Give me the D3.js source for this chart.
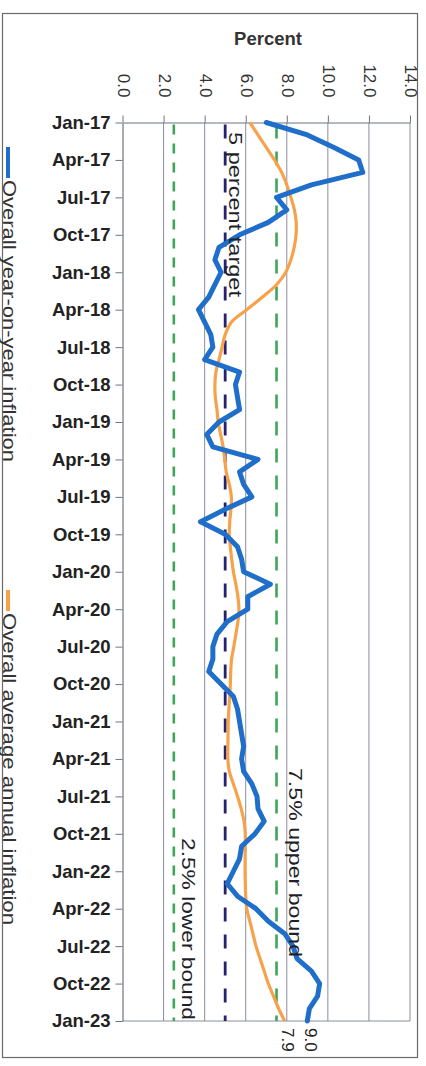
<!DOCTYPE html>
<html>
<head>
<meta charset="utf-8">
<script src="https://cdn.jsdelivr.net/npm/d3@7"></script>
<style>
  html, body { margin: 0; padding: 0; background: #ffffff; }
  svg { display: block; font-family: "Liberation Sans", Arial, sans-serif; }
</style>
</head>
<body>
<svg id="chart" width="426" height="1066"></svg>
<script>
// ---- Data ----
const tickLabels = ["Jan-17","Apr-17","Jul-17","Oct-17","Jan-18","Apr-18","Jul-18","Oct-18",
  "Jan-19","Apr-19","Jul-19","Oct-19","Jan-20","Apr-20","Jul-20","Oct-20",
  "Jan-21","Apr-21","Jul-21","Oct-21","Jan-22","Apr-22","Jul-22","Oct-22","Jan-23"];
const valueTicks = [0, 2, 4, 6, 8, 10, 12, 14];

// Overall year-on-year inflation, monthly Jan-17 .. Jan-23
const yoyInflation = [
  7.0, 9.0, 10.3, 11.5, 11.7, 9.2, 7.5, 8.0, 7.1, 5.7, 4.7, 4.5,
  4.8, 4.5, 4.2, 3.7, 4.0, 4.3, 4.4, 4.0, 5.7, 5.5, 5.6, 5.7,
  4.7, 4.1, 4.4, 6.6, 5.7, 5.9, 6.3, 5.0, 3.8, 5.0, 5.6, 5.8,
  5.9, 7.2, 6.1, 6.1, 5.1, 4.6, 4.4, 4.4, 4.2, 4.8, 5.4, 5.6,
  5.7, 5.8, 5.9, 5.8, 5.9, 6.3, 6.55, 6.6, 6.9, 6.45, 5.8, 5.7,
  5.4, 5.1, 5.6, 6.5, 7.1, 7.9, 8.3, 8.5, 9.2, 9.6, 9.5, 9.1,
  9.0
];
// Overall average annual inflation, monthly Jan-17 .. Jan-23
const avgInflation = [
  6.2, 6.6, 7.0, 7.4, 7.75, 8.0, 8.2, 8.37, 8.46, 8.45, 8.36, 8.2,
  7.95, 7.5, 6.8, 6.05, 5.3, 5.0, 4.85, 4.7, 4.55, 4.5, 4.52, 4.6,
  4.66, 4.78, 4.9, 4.98, 5.05, 5.2, 5.3, 5.28, 5.22, 5.2, 5.25, 5.32,
  5.4, 5.52, 5.62, 5.67, 5.62, 5.52, 5.42, 5.31, 5.27, 5.25, 5.22, 5.18,
  5.15, 5.14, 5.13, 5.13, 5.2, 5.4, 5.6, 5.78, 5.92, 5.98, 5.98, 5.97,
  5.97, 5.98, 6.0, 6.05, 6.2, 6.35, 6.5, 6.7, 6.9, 7.1, 7.35, 7.6,
  7.9
];
const seriesNames = ["Overall year-on-year inflation", "Overall average annual inflation"];
const targetValue = 5.0, lowerBound = 2.5, upperBound = 7.5;
const refLabels = ["5 percent target", "2.5% lower bound", "7.5% upper bound"];
const axisTitle = "Percent";

// ---- Layout ----
const svg = d3.select("#chart");
const pTop = 122.5, pBottom = 1021, pLeft = 122.5, pRight = 410;
const nMonths = yoyInflation.length - 1;

const x = d3.scaleLinear().domain([0, 14]).range([pLeft, pRight]);
const y = d3.scaleLinear().domain([0, nMonths]).range([pTop, pBottom]);

// outer frame
svg.append("rect").attr("x", 2.5).attr("y", 13.5).attr("width", 415).attr("height", 1044)
  .attr("fill", "none").attr("stroke", "#6a6a6a").attr("stroke-width", 1.2);

// vertical gridlines
svg.append("g").selectAll("line").data(valueTicks.slice(1)).join("line")
  .attr("x1", d => x(d)).attr("x2", d => x(d))
  .attr("y1", pTop).attr("y2", pBottom)
  .attr("stroke", "#8a8e9c").attr("stroke-width", 1);

// bottom line
svg.append("line").attr("x1", pLeft).attr("x2", pRight).attr("y1", pBottom).attr("y2", pBottom)
  .attr("stroke", "#8a8e9c").attr("stroke-width", 1);

// top value axis
const axTop = svg.append("g").attr("transform", `translate(0,${pTop})`)
  .call(d3.axisTop(x).tickValues(valueTicks).tickSize(7).tickSizeOuter(0).tickFormat(d3.format(".1f")));
axTop.select(".domain").attr("stroke", "#6d7384").attr("stroke-width", 1.2);
axTop.selectAll(".tick line").attr("stroke", "#6d7384");
axTop.selectAll(".tick text")
  .attr("font-size", 17).attr("fill", "#333")
  .attr("text-anchor", "end").attr("dominant-baseline", "central")
  .attr("x", 0).attr("y", 0).attr("dy", null)
  .attr("transform", "translate(0,-25) rotate(90)");

// left category axis
const catScale = d3.scaleLinear().domain([0, tickLabels.length - 1]).range([y(0), y(nMonths)]);
const axLeft = svg.append("g").attr("transform", `translate(${pLeft},0)`)
  .call(d3.axisLeft(catScale).tickValues(d3.range(tickLabels.length)).tickSize(7).tickSizeOuter(0)
    .tickFormat(i => tickLabels[i]));
axLeft.select(".domain").attr("stroke", "#6d7384").attr("stroke-width", 1.2);
axLeft.selectAll(".tick line").attr("stroke", "#6d7384");
axLeft.selectAll(".tick text")
  .attr("font-size", 18.5).attr("font-weight", "bold").attr("fill", "#222")
  .attr("x", -12);

// axis title
svg.append("text").attr("x", 268).attr("y", 45).attr("text-anchor", "middle")
  .attr("font-size", 18.5).attr("font-weight", "bold").attr("fill", "#333").text(axisTitle);

// reference lines
function refLine(v, color, dash, w) {
  svg.append("line").attr("x1", x(v)).attr("x2", x(v)).attr("y1", pTop + 2).attr("y2", pBottom)
    .attr("stroke", color).attr("stroke-width", w).attr("stroke-dasharray", dash);
}
refLine(lowerBound, "#3fa659", "10,9", 2.6);
refLine(upperBound, "#3fa659", "14,13", 2.6);
refLine(targetValue, "#27226e", "14,13", 2.8);

// series lines
svg.append("path").datum(avgInflation)
  .attr("d", d3.line().x(d => x(d)).y((d, i) => y(i)).curve(d3.curveCatmullRom))
  .attr("fill", "none").attr("stroke", "#f6a24b").attr("stroke-width", 3.2)
  .attr("stroke-linejoin", "round");
svg.append("path").datum(yoyInflation)
  .attr("d", d3.line().x(d => x(d)).y((d, i) => y(i)))
  .attr("fill", "none").attr("stroke", "#1f6ec9").attr("stroke-width", 5)
  .attr("stroke-linejoin", "round").attr("stroke-linecap", "round");

// rotated annotation helper
function rotText(tx, ty, str, len, size, color, anchor) {
  const t = svg.append("text").attr("transform", `translate(${tx},${ty}) rotate(90)`)
    .attr("font-size", size).attr("fill", color).attr("text-anchor", anchor || "start")
    .text(str);
  if (len) t.attr("textLength", len).attr("lengthAdjust", "spacingAndGlyphs");
  return t;
}
rotText(x(targetValue) + 4, 132, refLabels[0], 165, 18, "#1f1f2a");
rotText(x(upperBound) + 12, 768, refLabels[2], 189, 18, "#1f1f2a");
rotText(x(lowerBound) + 8, 838, refLabels[1], 182, 18, "#1f1f2a");

// end labels
const fmt = d3.format(".1f");
[yoyInflation, avgInflation].forEach(arr => {
  const v = arr[arr.length - 1];
  svg.append("text").attr("transform", `translate(${x(v) + 3},1028) rotate(90)`)
    .attr("font-size", 17).attr("fill", "#222").attr("dominant-baseline", "central")
    .text(fmt(v));
});

// legend (rotated)
svg.append("line").attr("x1", 8).attr("x2", 8).attr("y1", 147).attr("y2", 178)
  .attr("stroke", "#1f6ec9").attr("stroke-width", 4);
rotText(3, 180, seriesNames[0], 282, 18, "#333");
svg.append("line").attr("x1", 8).attr("x2", 8).attr("y1", 590).attr("y2", 611)
  .attr("stroke", "#f6a24b").attr("stroke-width", 4);
rotText(3, 613, seriesNames[1], 312, 18, "#333");
</script>
</body>
</html>
